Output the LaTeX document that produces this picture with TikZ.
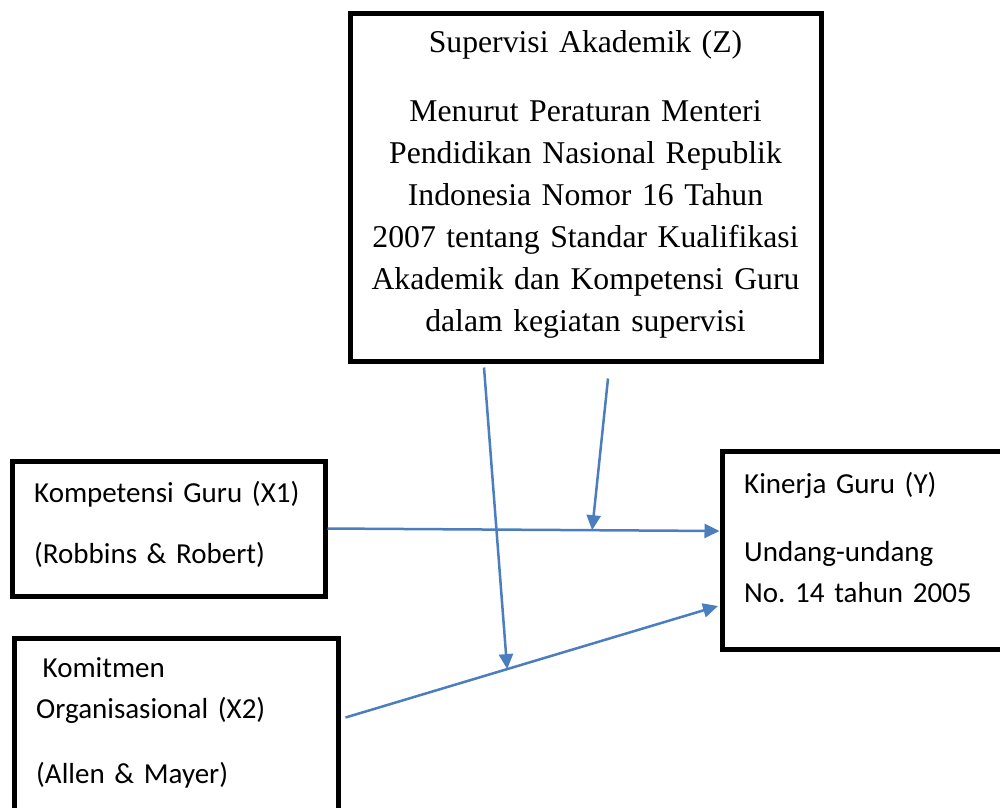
\documentclass[tikz,border=0pt]{standalone}
\usepackage{fontspec}
\setmainfont{Liberation Serif}
\newfontfamily\carlito{Carlito}
\usetikzlibrary{arrows.meta, positioning, calc}
\definecolor{lineblue}{RGB}{74,126,190}

\begin{document}
\begin{tikzpicture}[x=1pt, y=-1pt,
        box/.style={draw, line width=5pt, inner sep=0pt},
        sanstext/.style={anchor=base west, inner sep=0pt, align=left, font=\carlito\fontsize{29}{41}\selectfont},
        flow/.style={draw=lineblue, line width=2.5pt, -{Triangle[length=15pt,width=14pt]}}]
        \useasboundingbox (0,0) rectangle (1000,807);
        \clip (0,0) rectangle (1000,807);

        % boxes
        \node (Z) [box, minimum width=471, minimum height=348] at (585.5,187) {};
        \node (X1) [box, minimum width=313, minimum height=135] at (168.5,528.5) {};
        \node (X2) [box, minimum width=324, minimum height=242] at (176,759) {};
        \node (Y) [box, minimum width=298, minimum height=198] at (871,550) {};

        % texts
        \node (Ztext) [anchor=base, inner sep=0pt, text width=460, align=center,
            font=\fontsize{31.7}{42}\selectfont] at (585.5,52)
            {Supervisi Akademik (Z)\\[27pt]
             Menurut Peraturan Menteri\\
             Pendidikan Nasional Republik\\
             Indonesia Nomor 16 Tahun\\
             2007 tentang Standar Kualifikasi\\
             Akademik dan Kompetensi Guru\\
             dalam kegiatan supervisi};
        \node (X1text) [sanstext, text width=285] at (34,502)
            {Kompetensi Guru (X1)\\[20pt](Robbins \& Robert)};
        \node (X2text) [sanstext, text width=295] at (36,677)
            {\hspace*{6.5pt}Komitmen\\Organisasional (X2)\\[24pt](Allen \& Mayer)};
        \node (Ytext) [sanstext, text width=250] at (744,493)
            {Kinerja Guru (Y)\\[27pt]Undang-undang\\No.\ 14 tahun 2005};

        % connectors
        \coordinate (e1) at ([yshift=19pt]Y.west);
        \coordinate (s2) at ([xshift=5pt,yshift=-82pt]X2.north east);
        \coordinate (e2) at ([xshift=-1.5pt,yshift=-56pt]Y.west);
        \coordinate (m1) at ($(X1.east)!0.675!(e1)$);
        \coordinate (m2) at ($(s2)!0.434!(e2)$);

        \draw[flow] (X1.east) -- (e1);
        \draw[flow] (s2) -- (e2);
        \draw[flow] ([xshift=22.5pt,yshift=-15pt]Z.south) -- (m1);
        \draw[flow] ([xshift=-101.5pt,yshift=-4pt]Z.south) -- (m2);
    \end{tikzpicture}
\end{document}
